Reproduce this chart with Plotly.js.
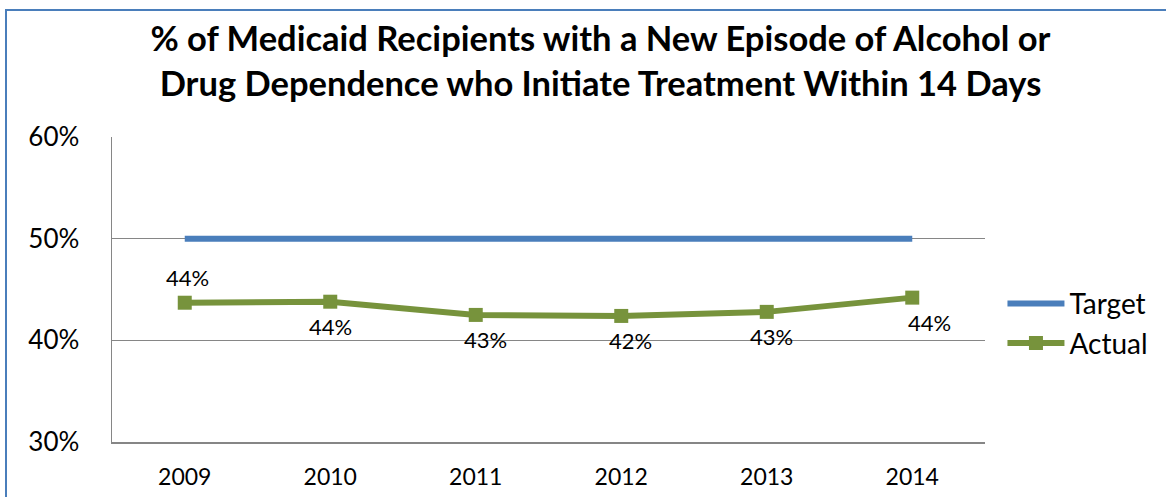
<!DOCTYPE html>
<html><head><meta charset="utf-8">
<script src="https://cdn.plot.ly/plotly-3.0.1.min.js"></script>
<style>
html,body{margin:0;padding:0;background:#fff;overflow:hidden}
#wrap{position:relative;width:1166px;height:497px}
#chart{position:absolute;left:0;top:0;width:1166px;height:497px}
#frame{position:absolute;left:5px;top:9px;width:1200px;height:600px;border-left:2px solid #4A7EBB;border-top:2px solid #4A7EBB;pointer-events:none}
</style></head>
<body><div id="wrap"><div id="chart"></div><div id="frame"></div></div>
<script>
var years = ['2009','2010','2011','2012','2013','2014'];
var target = [50,50,50,50,50,50];
var actual = [43.7,43.8,42.5,42.4,42.8,44.2];
var actualLabels = actual.map(function(v){return Math.round(v)+'%';});

// label placement styling (pixel offsets from each point)
var labelStyle = {
  above: [true,false,false,false,false,false],
  dx: [3,0,10,9,5,17]
};

var F = 'Lato, Carlito, Calibri, sans-serif';
var data = [
 {x:years,y:target,name:'Target',type:'scatter',mode:'lines',
  line:{color:'#4A7EBB',width:6}},
 {x:years,y:actual,name:'Actual',type:'scatter',mode:'lines+markers',
  line:{color:'#77933C',width:6},marker:{symbol:'square',size:14,color:'#77933C'}}
];
var annotations = years.map(function(yr,i){
  return {x:i,y:actual[i],xref:'x',yref:'y',text:actualLabels[i],showarrow:false,
    xshift: labelStyle.dx[i], yshift: labelStyle.above[i] ? 25 : -25,
    font:{family:F,size:22,color:'#000'}};
});
var layout = {
 width:1166,height:497,
 margin:{l:112,r:181,t:137,b:55},
 paper_bgcolor:'rgba(0,0,0,0)',plot_bgcolor:'rgba(0,0,0,0)',
 font:{family:F,color:'#000'},
 title:{text:'% of Medicaid Recipients with a New Episode of Alcohol or<br>Drug Dependence who Initiate Treatment Within 14 Days',
   font:{family:F,size:34.5,color:'#000',weight:'bold'},x:0.515,xanchor:'center',y:0.897,yanchor:'middle'},
 xaxis:{type:'category',range:[-0.5,5.5],showgrid:false,showline:true,linecolor:'#868686',linewidth:1.5,
   ticks:'',tickfont:{family:F,size:23,color:'#000'},ticklabelstandoff:14,zeroline:false,fixedrange:true},
 yaxis:{range:[30,60],dtick:10,ticksuffix:'%',showgrid:true,gridcolor:'#868686',gridwidth:1.5,
   showline:true,linecolor:'#868686',linewidth:1.5,ticks:'',tickfont:{family:F,size:26,color:'#000'},
   ticklabelstandoff:26,zeroline:false,fixedrange:true},
 legend:{x:1.02,xanchor:'left',y:0.389,yanchor:'middle',font:{family:F,size:28,color:'#000'},
   itemwidth:57,tracegroupgap:0,bgcolor:'rgba(0,0,0,0)'},
 annotations:annotations,
 showlegend:true
};
Plotly.newPlot('chart',data,layout,{displayModeBar:false,staticPlot:true});
</script></body></html>
